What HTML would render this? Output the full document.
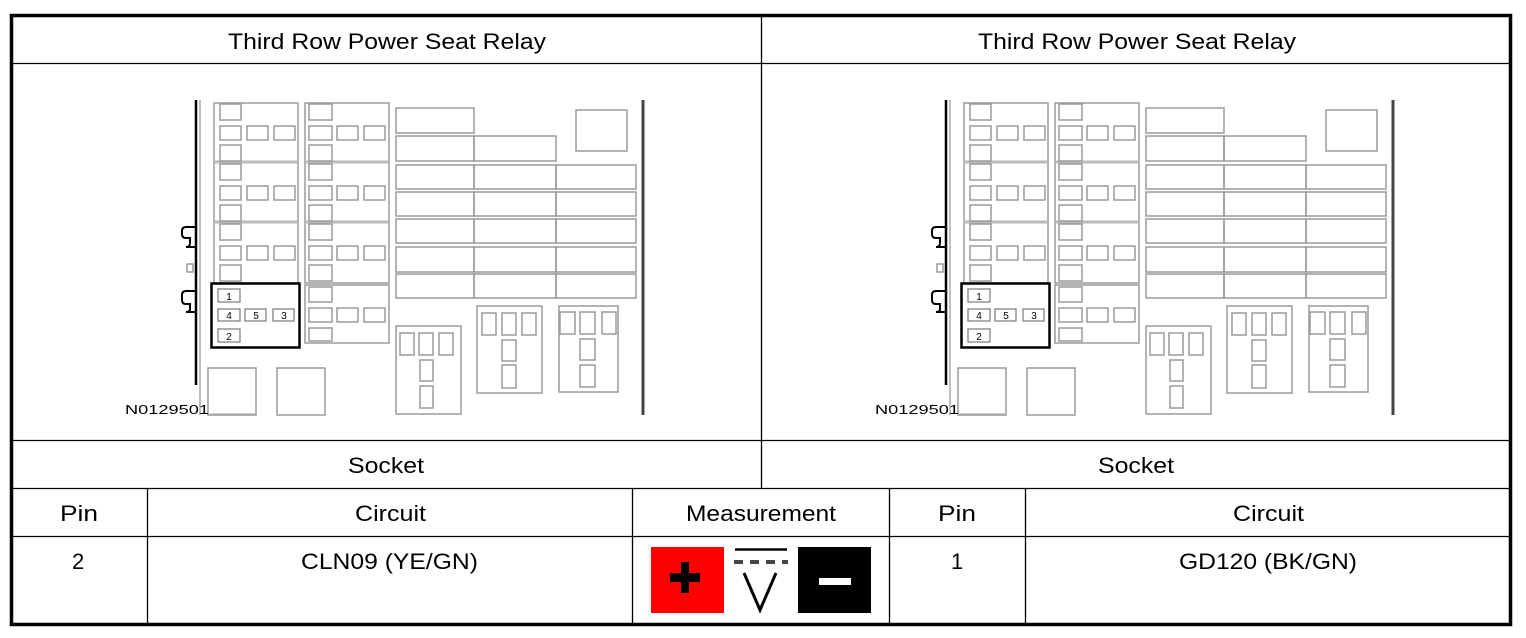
<!DOCTYPE html>
<html><head><meta charset="utf-8"><style>
html,body{margin:0;padding:0;background:#fff;}
svg{display:block;}
text{font-family:"Liberation Sans",Arial,sans-serif;fill:#000;}
</style></head><body>
<svg width="1526" height="638" viewBox="0 0 1526 638" xmlns="http://www.w3.org/2000/svg">
<defs>
<g id="dg" fill="none" stroke="#9a9a9a" stroke-width="1.5">
  <line x1="196" y1="100" x2="196" y2="385" stroke="#000" stroke-width="2.5"/>
  <line x1="200" y1="100" x2="200" y2="415" stroke="#aaa"/>
  <path d="M196 227 H186 Q182 227 182 231 V234 Q182 238 186 238 H190 V243 Q190 247 186 247 H196" stroke="#000" stroke-width="2"/>
  <path d="M196 291 H186 Q182 291 182 295 V300 Q182 304 186 304 H190 V309 Q190 312 186 312 H196" stroke="#000" stroke-width="2"/>
  <rect x="187" y="264" width="6" height="8"/>
  <rect x="214" y="103" width="84" height="180"/>
  <line x1="214" y1="162" x2="298" y2="162" stroke-width="3" stroke="#bbb"/>
  <line x1="214" y1="222" x2="298" y2="222" stroke-width="3" stroke="#bbb"/>
  <g>
    <rect x="220" y="104" width="21" height="16"/><rect x="220" y="126" width="21" height="14"/><rect x="247" y="126" width="21" height="14"/><rect x="274" y="126" width="21" height="14"/><rect x="220" y="145" width="21" height="16"/>
    <rect x="220" y="164" width="21" height="16"/><rect x="220" y="186" width="21" height="14"/><rect x="247" y="186" width="21" height="14"/><rect x="274" y="186" width="21" height="14"/><rect x="220" y="205" width="21" height="16"/>
    <rect x="220" y="224" width="21" height="16"/><rect x="220" y="246" width="21" height="14"/><rect x="247" y="246" width="21" height="14"/><rect x="274" y="246" width="21" height="14"/><rect x="220" y="265" width="21" height="16"/>
  </g>
  <rect x="305" y="103" width="84" height="180"/>
  <line x1="305" y1="162" x2="389" y2="162" stroke-width="3" stroke="#bbb"/>
  <line x1="305" y1="222" x2="389" y2="222" stroke-width="3" stroke="#bbb"/>
  <rect x="305" y="285" width="84" height="58"/>
  <g>
    <rect x="309" y="104" width="23" height="16"/><rect x="309" y="126" width="23" height="14"/><rect x="337" y="126" width="21" height="14"/><rect x="364" y="126" width="21" height="14"/><rect x="309" y="145" width="23" height="16"/>
    <rect x="309" y="164" width="23" height="16"/><rect x="309" y="186" width="23" height="14"/><rect x="337" y="186" width="21" height="14"/><rect x="364" y="186" width="21" height="14"/><rect x="309" y="205" width="23" height="16"/>
    <rect x="309" y="224" width="23" height="16"/><rect x="309" y="246" width="23" height="14"/><rect x="337" y="246" width="21" height="14"/><rect x="364" y="246" width="21" height="14"/><rect x="309" y="265" width="23" height="16"/>
    <rect x="309" y="287" width="23" height="15"/><rect x="309" y="308" width="23" height="14"/><rect x="337" y="308" width="21" height="14"/><rect x="364" y="308" width="21" height="14"/><rect x="309" y="328" width="23" height="13"/>
  </g>
  <rect x="396" y="108" width="78" height="25"/>
  <rect x="396" y="136" width="78" height="25"/><rect x="474" y="136" width="82" height="25"/>
  <rect x="576" y="110" width="51" height="41"/>
  <g>
    <rect x="396" y="165" width="78" height="24"/><rect x="474" y="165" width="82" height="24"/><rect x="556" y="165" width="80" height="24"/>
    <rect x="396" y="192" width="78" height="24"/><rect x="474" y="192" width="82" height="24"/><rect x="556" y="192" width="80" height="24"/>
    <rect x="396" y="219" width="78" height="24"/><rect x="474" y="219" width="82" height="24"/><rect x="556" y="219" width="80" height="24"/>
    <rect x="396" y="247" width="78" height="25"/><rect x="474" y="247" width="82" height="25"/><rect x="556" y="247" width="80" height="25"/>
    <rect x="396" y="274" width="78" height="24"/><rect x="474" y="274" width="82" height="24"/><rect x="556" y="274" width="80" height="24"/>
  </g>
  <line x1="643" y1="100" x2="643" y2="415" stroke="#444" stroke-width="3"/>
  <rect x="396" y="326" width="65" height="88"/>
  <rect x="400" y="333" width="14" height="22"/><rect x="419" y="333" width="14" height="22"/><rect x="439" y="333" width="14" height="22"/>
  <rect x="420" y="360" width="13" height="21"/><rect x="420" y="386" width="13" height="22"/>
  <rect x="477" y="306" width="65" height="87"/>
  <rect x="482" y="313" width="14" height="22"/><rect x="502" y="313" width="14" height="22"/><rect x="522" y="313" width="14" height="22"/>
  <rect x="502" y="340" width="14" height="21"/><rect x="502" y="365" width="14" height="23"/>
  <rect x="559" y="306" width="59" height="86"/>
  <rect x="560" y="312" width="15" height="22"/><rect x="580" y="312" width="15" height="22"/><rect x="602" y="312" width="14" height="22"/>
  <rect x="580" y="339" width="15" height="21"/><rect x="580" y="365" width="15" height="22"/>
  <rect x="208" y="368" width="48" height="47"/>
  <rect x="277" y="368" width="48" height="47"/>
  <rect x="211.5" y="283.5" width="88" height="64" stroke="#000" stroke-width="2.5"/>
  <g stroke="#777" stroke-width="1.2">
  <rect x="218" y="289" width="22" height="13"/>
  <rect x="218" y="309" width="22" height="12"/><rect x="245" y="309" width="21" height="12"/><rect x="273" y="309" width="21" height="12"/>
  <rect x="218" y="329" width="22" height="13"/>
  </g>
</g>
</defs>

<g stroke="#000" fill="none">
  <rect x="11.5" y="15.5" width="1499" height="609" stroke-width="3.5"/>
  <line x1="12" y1="63.5" x2="1510" y2="63.5" stroke-width="1.3"/>
  <line x1="12" y1="440.5" x2="1510" y2="440.5" stroke-width="1.3"/>
  <line x1="12" y1="488.5" x2="1510" y2="488.5" stroke-width="1.3"/>
  <line x1="12" y1="536.5" x2="1510" y2="536.5" stroke-width="1.3"/>
  <line x1="761.5" y1="16" x2="761.5" y2="488" stroke-width="1.3"/>
  <line x1="147.5" y1="488" x2="147.5" y2="624" stroke-width="1.3"/>
  <line x1="632.5" y1="488" x2="632.5" y2="624" stroke-width="1.3"/>
  <line x1="889.5" y1="488" x2="889.5" y2="624" stroke-width="1.3"/>
  <line x1="1025.5" y1="488" x2="1025.5" y2="624" stroke-width="1.3"/>
</g>

<use href="#dg"/>
<use href="#dg" transform="translate(750,0)"/>

<g font-size="10" text-anchor="middle">
  <text x="229" y="300">1</text><text x="229" y="319">4</text><text x="256" y="319">5</text><text x="284" y="319">3</text><text x="229" y="340">2</text>
  <text x="979" y="300">1</text><text x="979" y="319">4</text><text x="1006" y="319">5</text><text x="1034" y="319">3</text><text x="979" y="340">2</text>
</g>
<text x="125" y="414" font-size="13" fill="#333" textLength="84" lengthAdjust="spacingAndGlyphs">N0129501</text>
<text x="875" y="414" font-size="13" fill="#333" textLength="84" lengthAdjust="spacingAndGlyphs">N0129501</text>
<line x1="210" y1="414" x2="256" y2="414" stroke="#aaa"/>
<line x1="960" y1="414" x2="1006" y2="414" stroke="#aaa"/>

<g font-size="22" lengthAdjust="spacingAndGlyphs">
  <text x="228" y="49" textLength="318" lengthAdjust="spacingAndGlyphs">Third Row Power Seat Relay</text>
  <text x="978" y="49" textLength="318" lengthAdjust="spacingAndGlyphs">Third Row Power Seat Relay</text>
  <text x="348" y="473" textLength="76" lengthAdjust="spacingAndGlyphs">Socket</text>
  <text x="1098" y="473" textLength="76" lengthAdjust="spacingAndGlyphs">Socket</text>
  <text x="60" y="521" textLength="38" lengthAdjust="spacingAndGlyphs">Pin</text>
  <text x="355" y="521" textLength="71" lengthAdjust="spacingAndGlyphs">Circuit</text>
  <text x="686" y="521" textLength="150" lengthAdjust="spacingAndGlyphs">Measurement</text>
  <text x="938" y="521" textLength="38" lengthAdjust="spacingAndGlyphs">Pin</text>
  <text x="1233" y="521" textLength="71" lengthAdjust="spacingAndGlyphs">Circuit</text>
  <text x="72" y="569">2</text>
  <text x="301" y="569" textLength="177" lengthAdjust="spacingAndGlyphs">CLN09 (YE/GN)</text>
  <text x="951" y="569">1</text>
  <text x="1179" y="569" textLength="178" lengthAdjust="spacingAndGlyphs">GD120 (BK/GN)</text>
</g>

<rect x="651" y="547" width="73" height="66" fill="#f00"/>
<rect x="681" y="562" width="8" height="31" fill="#000"/>
<rect x="670" y="573" width="30" height="9" fill="#000"/>
<line x1="735" y1="549.5" x2="787" y2="549.5" stroke="#000" stroke-width="2.5"/>
<line x1="734" y1="562" x2="788" y2="562" stroke="#444" stroke-width="4" stroke-dasharray="9,7"/>
<path d="M744 573 L760 610 L776 573" fill="none" stroke="#000" stroke-width="3"/>
<rect x="798" y="547" width="73" height="66" fill="#000"/>
<rect x="819" y="578" width="32" height="7" fill="#fff"/>
</svg>
</body></html>
